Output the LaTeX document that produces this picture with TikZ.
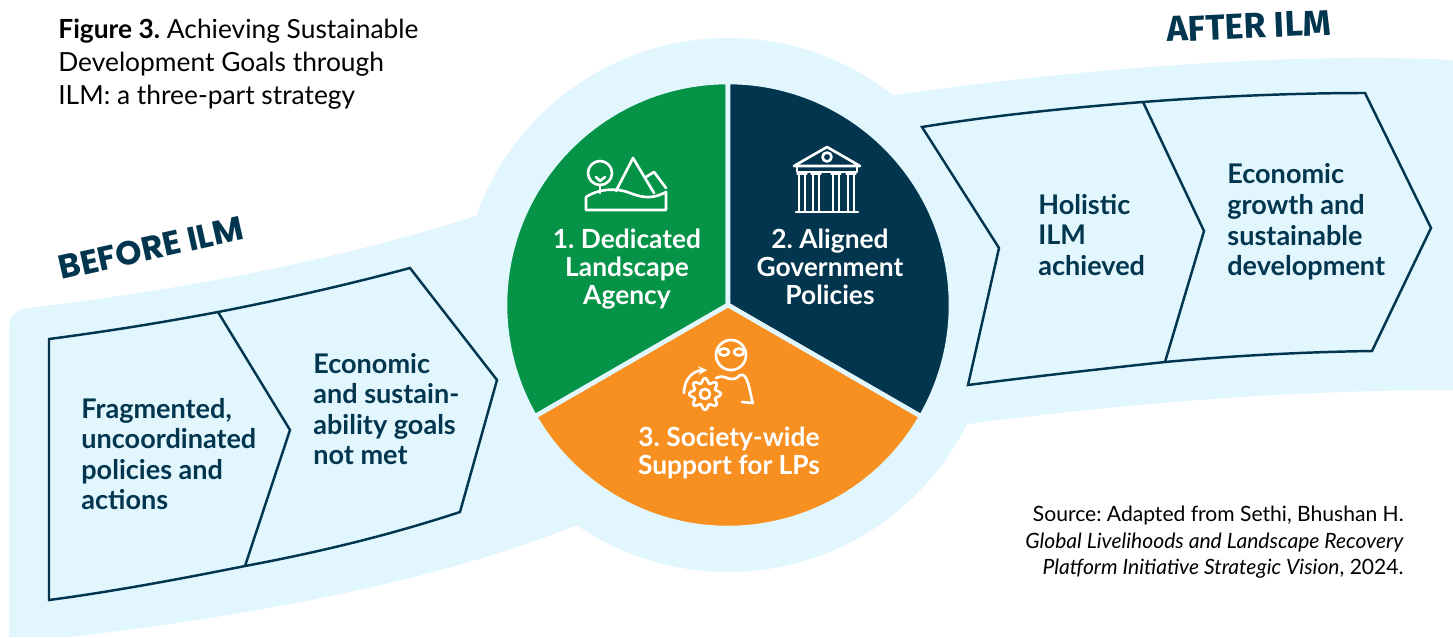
\documentclass[tikz,border=0pt]{standalone}
\usepackage{fontspec}
\setmainfont{Lato}
\newfontfamily\beforefont{Poppins}
\newfontfamily\afterfont{Fira Sans}
\usetikzlibrary{positioning,calc,arrows,arrows.meta}
\definecolor{palebg}{HTML}{E2F6FE}
\definecolor{navyc}{HTML}{02364F}
\definecolor{greenc}{HTML}{049347}
\definecolor{orangec}{HTML}{F79020}
\tikzset{
	bandtext/.style={text=navyc, align=left, inner sep=0pt, font=\fontsize{15.4}{17.4}\selectfont\bfseries},
	slicetext/.style={text=white, align=center, inner sep=0pt, font=\fontsize{15}{16}\selectfont\bfseries},
	chevron/.style={draw=navyc, line width=1.4pt, line join=miter},
	sliceedge/.style={draw=palebg, line width=2.6pt},
	iconline/.style={draw=white, line width=1.5pt, line cap=round, line join=round},
	notetext/.style={text=black, inner sep=0pt, font=\fontsize{12}{15}\selectfont}
}
\frenchspacing

\begin{document}
\begin{tikzpicture}[x=0.02cm, y=-0.02cm]
	\useasboundingbox (0, 0) rectangle (1453, 637);

	% pale band behind everything
	\fill [palebg] (476, 216) .. controls (330, 262) and (180, 290) .. (28, 308)
		.. controls (16, 310) and (9, 316) .. (9, 328) -- (9, 637) -- (70, 637)
		.. controls (260, 615) and (440, 580) .. (577, 525)
		-- (728, 400) -- (968, 424)
		.. controls (1120, 404) and (1290, 390) .. (1453, 390)
		-- (1453, 60) .. controls (1300, 52) and (1080, 68) .. (895, 95)
		-- (728, 200) -- cycle;
	\fill [palebg] (728, 305) circle (267);

	% the three slices
	\coordinate (mid) at (728, 305);
	\filldraw [sliceedge, fill=greenc] (mid) -- ++(0, -223) arc[start angle=90, end angle=210, x radius=223, y radius=-223] -- cycle;
	\filldraw [sliceedge, fill=navyc] (mid) -- ++(0, -223) arc[start angle=90, end angle=-30, x radius=223, y radius=-223] -- cycle;
	\filldraw [sliceedge, fill=orangec] (mid) -- ++(193.1, 111.5) arc[start angle=-30, end angle=-150, x radius=223, y radius=-223] -- cycle;

	% chevrons left
	\draw [chevron] (49, 339) .. controls (110, 331) and (165, 322) .. (218, 312)
		.. controls (285, 299) and (350, 284) .. (410, 268)
		-- (497, 380) -- (460, 512)
		.. controls (390, 535) and (320, 552) .. (245, 566)
		.. controls (180, 579) and (110, 592) .. (49, 600) -- cycle;
	\draw [chevron] (218, 312) -- (290, 430) -- (245, 566);

	% chevrons right
	\draw [chevron] (922, 127) .. controls (990, 116) and (1065, 108) .. (1143, 102)
		.. controls (1220, 96) and (1300, 93) .. (1365, 93)
		-- (1431, 228) -- (1372, 351)
		.. controls (1300, 352) and (1230, 356) .. (1165, 362)
		.. controls (1100, 369) and (1030, 377) .. (968, 385)
		-- (999, 248) -- cycle;
	\draw [chevron] (1143, 102) -- (1204, 231) -- (1165, 362);

	% landscape icon
	\begin{scope}[iconline]
		\draw (600, 173) circle (12);
		\draw (600, 185) -- (600, 193);
		\draw (600, 181) -- (605, 177);
		\draw (600, 181) -- (596, 177);
		\draw (616, 191) -- (633, 158) -- (654, 193);
		\draw (646, 177) -- (654, 172) -- (666, 188);
		\draw (586, 210) -- (586, 197) .. controls (600, 188) and (618, 188) .. (630, 193)
			.. controls (645, 199) and (655, 198) .. (666, 192)
			-- (666, 210) -- cycle;
	\end{scope}

	% temple icon
	\begin{scope}[iconline]
		\draw (794, 166) -- (827, 147) -- (860, 166) -- cycle;
		\draw (827, 157) circle (4.5);
		\draw (797, 166) -- (797, 172) -- (857, 172) -- (857, 166);
		\draw (796, 212) -- (858, 212);
		\foreach \colx in {802, 816, 836, 851} {
			\draw (\colx-3, 174) -- (\colx-3, 212);
			\draw (\colx+3, 174) -- (\colx+3, 212);
			\draw (\colx-4.5, 174) -- (\colx+4.5, 174);
		}
	\end{scope}

	% people and gear icon
	\begin{scope}[iconline]
		\draw (731, 355) circle (15);
		\draw (724, 352) ellipse (5 and 3.5);
		\draw (739, 352) ellipse (5 and 3.5);
		\draw (716, 378) .. controls (726, 374) and (726, 380) .. (733, 379)
			.. controls (740, 378) and (738, 374) .. (743, 375)
			.. controls (749, 377) and (751, 400) .. (753, 403) -- (742, 402);
		\draw plot[smooth cycle, samples=49, domain=0:352.5] ({705+13.5*cos(\x)+2.5*cos(8*\x)*cos(\x)}, {394+13.5*sin(\x)+2.5*cos(8*\x)*sin(\x)});
		\draw (705, 394) circle (5);
		\draw [-{Stealth[length=5pt, width=5pt]}] (684, 393) .. controls (684, 380) and (692, 371) .. (707, 370);
	\end{scope}

	% labels
	\node [slicetext] (dedicated) at (627, 269) {1. Dedicated\\Landscape\\Agency};
	\node [slicetext] (aligned) at (830, 267) {2. Aligned\\Government\\Policies};
	\node [slicetext] (society) at (729, 453) {3. Society-wide\\Support for LPs};

	\node [bandtext, anchor=west] (fragmented) at (81, 454) {Fragmented,\\uncoordinated\\policies and\\actions};
	\node [bandtext, anchor=west] (unmet) at (313, 409) {Economic\\and sustain-\\ability goals\\not met};
	\node [bandtext, anchor=west] (holistic) at (1038, 235) {Holistic\\ILM\\achieved};
	\node [bandtext, anchor=west] (growth) at (1227, 222) {Economic\\growth and\\sustainable\\development};

	\node [inner sep=0pt, text=navyc, rotate=12.5, font=\beforefont\fontsize{19}{24}\selectfont\bfseries] (before) at (151, 248) {BEFORE ILM};
	\node [inner sep=0pt, text=navyc, rotate=2.5, font=\afterfont\fontsize{20.4}{24}\selectfont\bfseries] (after) at (1249, 26) {AFTER ILM};

	\node [inner sep=0pt, anchor=north west, align=left, text=black, font=\fontsize{15}{18.8}\selectfont] (caption) at (58, 19) {\textbf{Figure 3.} Achieving Sustainable\\Development Goals through\\ILM: a three-part strategy};
	\node [notetext, anchor=north east, align=right] (source) at (1404, 506) {Source: Adapted from Sethi, Bhushan H.\\\textit{Global Livelihoods and Landscape Recovery}\\\textit{Platform Initiative Strategic Vision}, 2024.};
\end{tikzpicture}
\end{document}
